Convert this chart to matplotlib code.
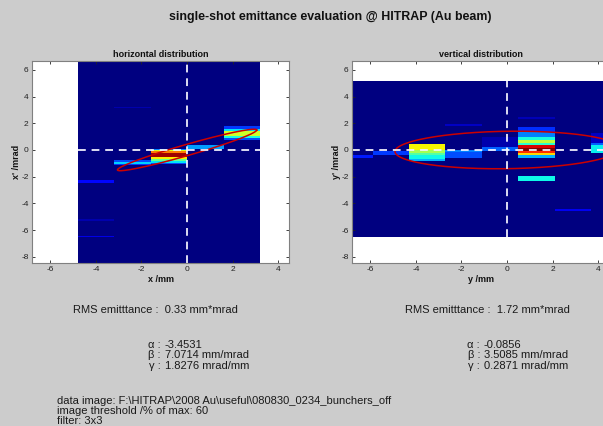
import numpy as np
import matplotlib
matplotlib.use("Agg")
import matplotlib.pyplot as plt

plt.rcParams['font.family'] = ['Liberation Sans', 'DejaVu Sans']
plt.rcParams['axes.unicode_minus'] = False

# ---------------- data ----------------
title = "single-shot emittance evaluation @ HITRAP (Au beam)"

# horizontal phase space: slit columns (x edges, mm) and intensity segments (y_top, y_bottom, value)
h_x_edges = [-4.8, -3.2, -1.6, 0.0, 1.6, 3.2]
h_y_range = (-8.6, 6.8)
h_segments = [
    [(-2.28, -2.48, 0.13), (-5.2, -5.3, 0.04), (-6.43, -6.55, 0.09)],
    [(3.22, 3.12, 0.04), (-0.78, -0.88, 0.2), (-0.88, -1.05, 0.33), (-1.05, -1.15, 0.18)],
    [(0.05, 0.0, 0.25), (0.0, -0.1, 0.62), (-0.1, -0.2, 0.78), (-0.2, -0.55, 0.97),
     (-0.55, -0.65, 0.66), (-0.65, -0.8, 0.48), (-0.8, -0.95, 0.35), (-0.95, -1.05, 0.2)],
    [(0.35, 0.1, 0.28)],
    [(1.8, 1.55, 0.18), (1.55, 1.42, 0.35), (1.42, 1.05, 0.6), (1.05, 0.9, 0.38), (0.9, 0.72, 0.2)],
]

# vertical phase space
v_x_edges = [-7.5, -5.9, -4.3, -2.7, -1.1, 0.5, 2.1, 3.7, 5.3]
v_y_range = (-6.55, 5.2)
v_segments = [
    [(-0.35, -0.6, 0.15)],
    [(-0.1, -0.4, 0.18)],
    [(0.45, 0.0, 0.65), (0.0, -0.2, 0.55), (-0.2, -0.4, 0.45), (-0.4, -0.65, 0.37), (-0.65, -0.85, 0.3)],
    [(1.95, 1.8, 0.06), (0.0, -0.15, 0.25), (-0.15, -0.6, 0.2)],
    [(1.0, 0.2, 0.04), (0.2, -0.05, 0.22)],
    [(2.5, 2.3, 0.05), (1.7, 1.37, 0.17), (1.37, 0.95, 0.25), (0.95, 0.72, 0.38), (0.72, 0.55, 0.58),
     (0.55, 0.35, 0.4), (0.35, 0.15, 0.92), (0.15, -0.05, 1.0), (-0.05, -0.2, 0.86),
     (-0.2, -0.37, 0.68), (-0.37, -0.6, 0.3), (-1.98, -2.35, 0.37)],
    [(-4.45, -4.55, 0.1)],
    [(1.3, 0.5, 0.06), (0.5, 0.35, 0.22), (0.35, -0.2, 0.36)],
]

# Twiss parameters
h_eps, h_alpha, h_beta, h_gamma = 0.33, -3.4531, 7.0714, 1.8276
v_eps, v_alpha, v_beta, v_gamma = 1.72, -0.0856, 3.5085, 0.2871

x_ticks = [-6, -4, -2, 0, 2, 4]
y_ticks = [-8, -6, -4, -2, 0, 2, 4, 6]
xlim = (-6.8, 4.47)
ylim = (-8.46, 6.66)

info_lines = ["data image: F:\\HITRAP\\2008 Au\\useful\\080830_0234_bunchers_off",
              "image threshold /% of max: 60",
              "filter: 3x3"]

# ---------------- figure ----------------
W, H = 603, 426
fig = plt.figure(figsize=(W / 100, H / 100), dpi=100, facecolor='#cccccc')


def build(x_edges, y_range, segs):
    dy = 0.01
    y_edges = np.arange(y_range[0], y_range[1] + dy / 2, dy)
    yc = 0.5 * (y_edges[:-1] + y_edges[1:])
    Z = np.zeros((len(yc), len(x_edges) - 1))
    for j, col in enumerate(segs):
        for (yt, yb, v) in col:
            m = (yc <= yt) & (yc >= yb)
            Z[m, j] = v
    return np.array(x_edges), y_edges, Z


def ellipse(eps, alpha, beta):
    t = np.linspace(0, 2 * np.pi, 400)
    E = 4 * eps
    x = np.sqrt(E * beta) * np.cos(t)
    xp = -np.sqrt(E / beta) * (alpha * np.cos(t) + np.sin(t))
    return x, xp


def panel(rect, x_edges, y_range, segs, eps, alpha, beta, ttl, xl, yl):
    ax = fig.add_axes(rect)
    ax.set_facecolor('white')
    xe, ye, Z = build(x_edges, y_range, segs)
    ax.pcolormesh(xe, ye, Z, cmap='jet', vmin=0, vmax=1, shading='flat')
    ex, ey = ellipse(eps, alpha, beta)
    ax.plot(ex, ey, color='#cc0000', lw=1.1)
    x0, x1 = max(xe[0], xlim[0]), min(xe[-1], xlim[1] + 0.5)
    ax.plot([x0, x1], [0, 0], color='#f4f4ff', lw=1.4, ls=(0, (4, 3)), alpha=0.9)
    y0, y1 = max(y_range[0], ylim[0]), min(y_range[1], ylim[1])
    ax.plot([0, 0], [y0, y1], color='#f4f4ff', lw=1.4, ls=(0, (4, 3)), alpha=0.9)
    ax.set_xlim(*xlim)
    ax.set_ylim(*ylim)
    ax.set_xticks(x_ticks)
    ax.set_yticks(y_ticks)
    ax.tick_params(direction='in', length=2.5, width=0.6, labelsize=6, colors='#222222',
                   top=True, right=True, pad=2.5)
    for s in ax.spines.values():
        s.set_color('#808080')
        s.set_linewidth(0.8)
    ax.set_title(ttl, fontsize=6.5, fontweight='bold', pad=3, color='#111111')
    ax.set_xlabel(xl, fontsize=6.5, fontweight='bold', labelpad=1, color='#111111')
    ax.set_ylabel(yl, fontsize=6.5, fontweight='bold', labelpad=0, color='#111111')
    return ax


h = 202 / H
b = 1 - 263 / H
panel([32 / W, b, 257 / W, h], h_x_edges, h_y_range, h_segments, h_eps, h_alpha, h_beta,
      "horizontal distribution", "x /mm", "x' /mrad")
panel([352 / W, b, 257 / W, h], v_x_edges, v_y_range, v_segments, v_eps, v_alpha, v_beta,
      "vertical distribution", "y /mm", "y' /mrad")

fig.text(330 / W, 1 - 17 / H, title, ha='center', va='center', fontsize=8.9, fontweight='bold',
         color='#111111')

tc = '#1a1a1a'
fs = 8.0
fig.text(73 / W, 1 - 310 / H, "RMS emitttance :  %.2f mm*mrad" % h_eps, fontsize=fs, va='center', color=tc)
fig.text(405 / W, 1 - 310 / H, "RMS emitttance :  %.2f mm*mrad" % v_eps, fontsize=fs, va='center', color=tc)


def twiss(xg, xv, alpha, beta, gamma):
    rows = [("α :", "%.4f" % alpha), ("β :", "%.4f mm/mrad" % beta), ("γ :", "%.4f mrad/mm" % gamma)]
    for i, (g, v) in enumerate(rows):
        y = 1 - (345 + 10.5 * i) / H
        fig.text(xg / W, y, g, fontsize=fs, ha='right', va='center', color=tc)
        fig.text(xv / W, y, v, fontsize=fs, ha='left', va='center', color=tc)


twiss(161, 165, h_alpha, h_beta, h_gamma)
twiss(480, 484, v_alpha, v_beta, v_gamma)

for i, line in enumerate(info_lines):
    fig.text(57 / W, 1 - (401 + 10.2 * i) / H, line, fontsize=fs, va='center', color=tc)

fig.savefig("out.png", dpi=100, facecolor=fig.get_facecolor())
